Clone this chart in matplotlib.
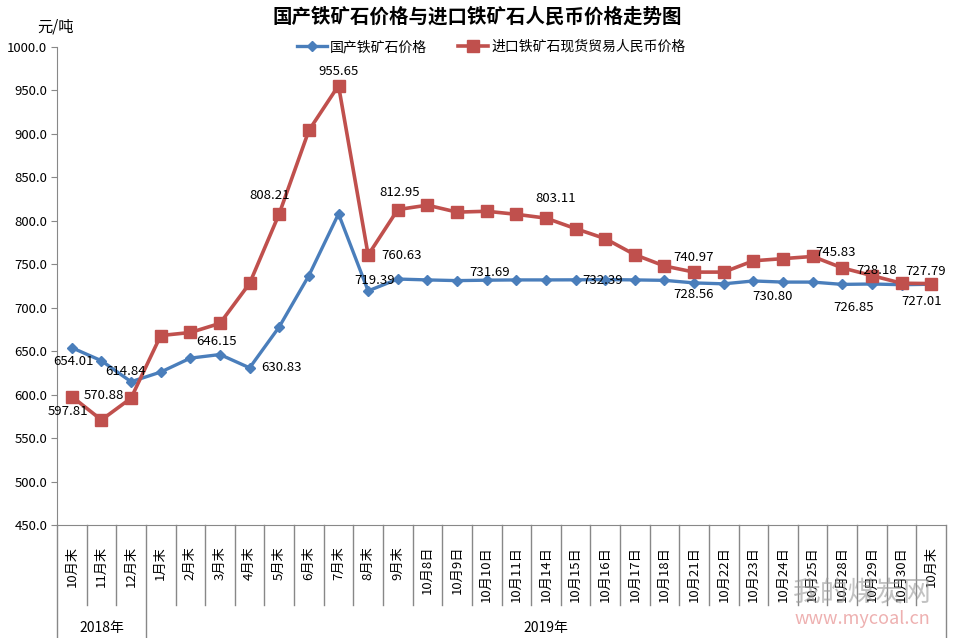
import matplotlib
matplotlib.use('Agg')
import matplotlib.pyplot as plt
import matplotlib.transforms as mtransforms

plt.rcParams['font.family'] = ['Noto Sans CJK SC', 'DejaVu Sans']

categories = ['10月末', '11月末', '12月末',
              '1月末', '2月末', '3月末', '4月末', '5月末', '6月末', '7月末', '8月末', '9月末',
              '10月8日', '10月9日', '10月10日', '10月11日', '10月14日', '10月15日',
              '10月16日', '10月17日', '10月18日', '10月21日', '10月22日', '10月23日',
              '10月24日', '10月25日', '10月28日', '10月29日', '10月30日', '10月末']

domestic = [654.01, 639.0, 614.84, 626.0, 642.0, 646.15, 630.83, 678.0, 737.0, 808.0,
            719.39, 733.0, 732.0, 731.2, 731.69, 732.0, 732.0, 732.1, 732.39, 732.0,
            731.5, 728.56, 727.5, 730.80, 729.5, 729.5, 726.85, 727.3, 726.5, 727.01]

imported = [597.81, 570.88, 596.0, 668.0, 671.5, 682.0, 728.0, 808.21, 904.0, 955.65,
            760.63, 812.95, 818.0, 810.0, 811.0, 807.5, 803.11, 791.0, 779.5, 761.0,
            748.0, 740.97, 741.0, 754.0, 756.5, 759.0, 745.83, 737.0, 728.18, 727.79]

# labelled points: index -> (dx, dy) offset in pixels
domestic_labels = {0: (2, -14), 2: (-6, 10), 5: (-3, 13), 6: (32, 0), 10: (6, 10),
                   14: (3, 8), 18: (-3, -1), 21: (-1, -12), 23: (19, -16),
                   26: (11, -23), 29: (-10, -17)}
imported_labels = {0: (-4, -15), 1: (2, 24), 7: (-10, 18), 9: (0, 14), 10: (33, 0),
                   11: (2, 17), 16: (10, 20), 21: (-1, 15), 26: (-7, 15),
                   28: (-25, 13), 29: (-6, 12)}

years = ['2018年', '2019年']
year_spans = [(0, 2), (3, 29)]

blue = '#4a7ebb'
red = '#c0504d'
grey = '#888888'

fig = plt.figure(figsize=(9.55, 6.38), dpi=100)
ax = fig.add_axes([57 / 955, 1 - 525 / 638, (946 - 57) / 955, (525 - 47) / 638])

x = list(range(len(categories)))
ax.plot(x, domestic, color=blue, lw=2.4, marker='D', ms=5.2, label='国产铁矿石价格')
ax.plot(x, imported, color=red, lw=2.6, marker='s', ms=8, label='进口铁矿石现货贸易人民币价格')

for i, (dx, dy) in domestic_labels.items():
    ax.annotate('%.2f' % domestic[i], (i, domestic[i]), xytext=(dx, dy),
                textcoords='offset pixels', ha='center', va='center', fontsize=9.5)
for i, (dx, dy) in imported_labels.items():
    ax.annotate('%.2f' % imported[i], (i, imported[i]), xytext=(dx, dy),
                textcoords='offset pixels', ha='center', va='center', fontsize=9.5)

ax.set_xlim(-0.5, len(categories) - 0.5)
ax.set_ylim(450, 1000)
ax.set_yticks(range(450, 1001, 50))
ax.set_yticklabels(['%.1f' % v for v in range(450, 1001, 50)], fontsize=9.5)
ax.set_xticks(x)
ax.set_xticklabels(categories, rotation=90, fontsize=9.5)
ax.tick_params(axis='x', length=0, pad=15)
ax.tick_params(axis='y', length=4, color=grey, pad=3)

for s in ['top', 'right']:
    ax.spines[s].set_visible(False)
for s in ['left', 'bottom']:
    ax.spines[s].set_color(grey)

# category separators below the axis
trans = mtransforms.blended_transform_factory(ax.transData, ax.transAxes)
short_end = (525 - 605) / 478
long_end = (525 - 638) / 478
group_edges = [-0.5, 2.5, len(categories) - 0.5]
for k in range(len(categories) + 1):
    pos = k - 0.5
    end = long_end if pos in group_edges else short_end
    ax.plot([pos, pos], [0, end], color=grey, lw=1, transform=trans, clip_on=False)

for name, (a, b) in zip(years, year_spans):
    ax.text((a + b) / 2, (525 - 628) / 478, name, transform=trans,
            ha='center', va='center', fontsize=10)

fig.text(0.5, 1 - 17 / 638, '国产铁矿石价格与进口铁矿石人民币价格走势图',
         ha='center', va='center', fontsize=14, fontweight='bold')
fig.text(56 / 955, 1 - 27 / 638, '元/吨', ha='center', va='center', fontsize=11)

fig.legend(loc='center', bbox_to_anchor=(491 / 955, 1 - 47 / 638), ncol=2,
           frameon=False, fontsize=10, handlelength=2.2, columnspacing=2.2,
           handletextpad=0.2)

# site watermark
fig.text(862 / 955, 1 - 592 / 638, '我的煤炭网', ha='center', va='center',
         fontsize=20, color='#9a9a9a', alpha=0.6)
fig.text(862 / 955, 1 - 619 / 638, 'www.mycoal.cn', ha='center', va='center',
         fontsize=13, color='#e07070', alpha=0.55)

fig.savefig('out.png', dpi=100)
